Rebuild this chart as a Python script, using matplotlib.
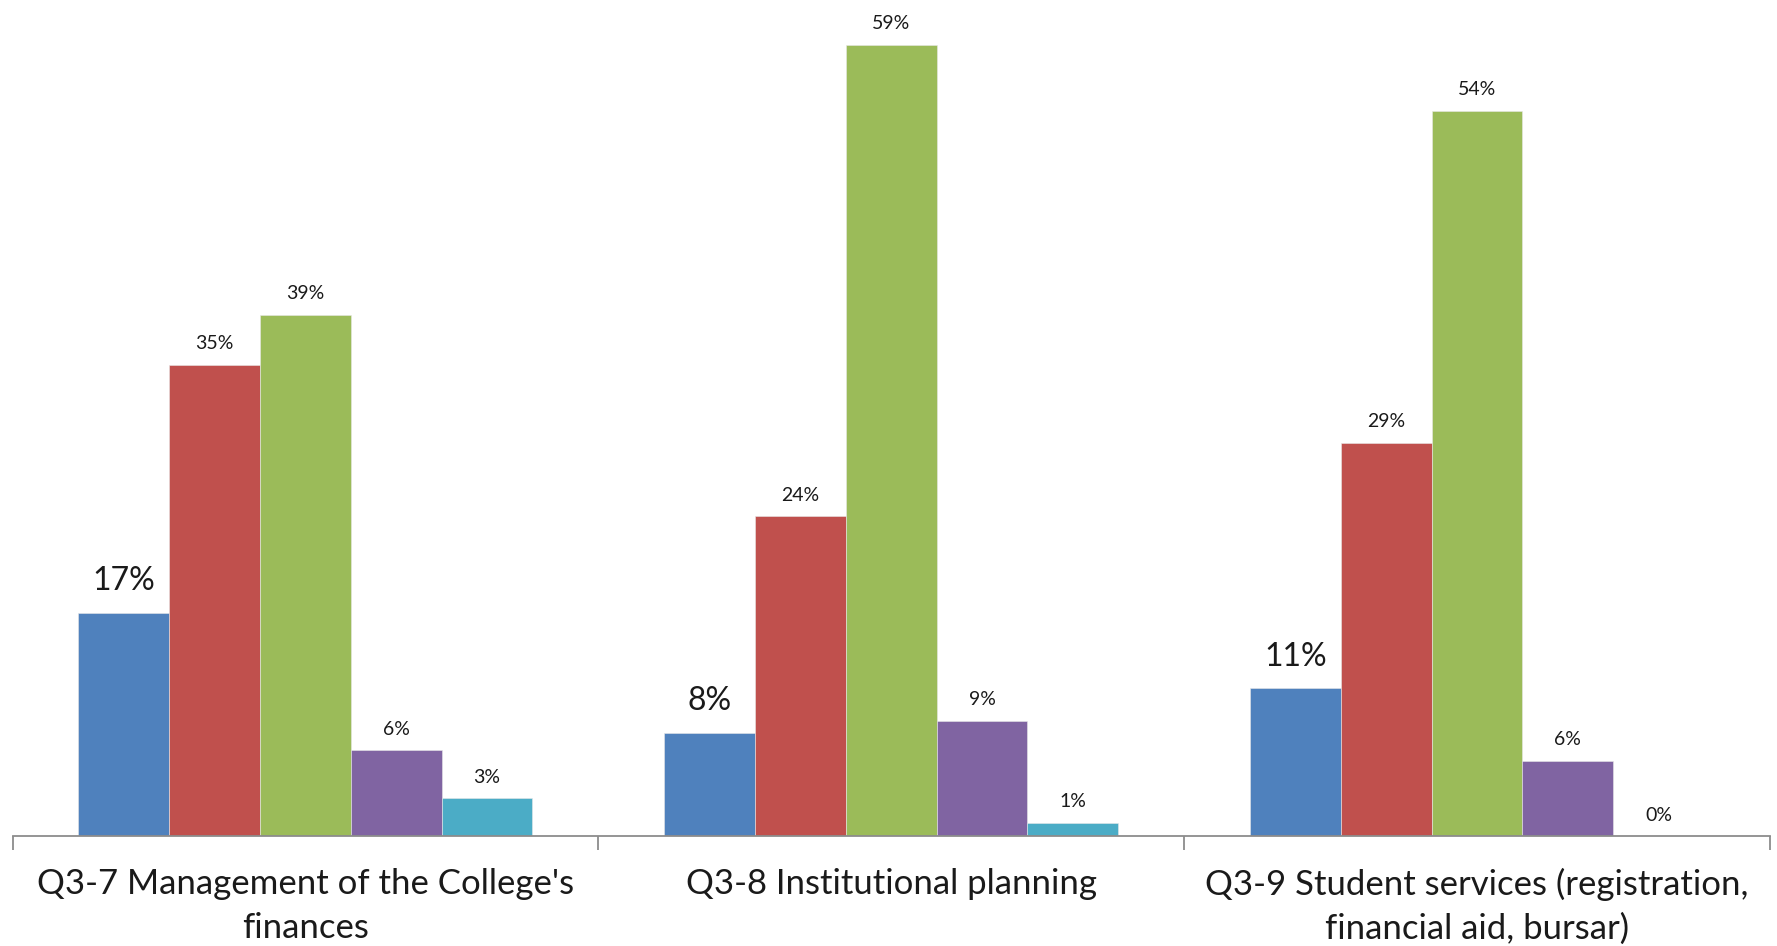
import matplotlib
matplotlib.use("Agg")
import matplotlib.pyplot as plt
import numpy as np

categories = ["Q3-7 Management of the College's\nfinances",
              "Q3-8 Institutional planning",
              "Q3-9 Student services (registration,\nfinancial aid, bursar)"]
series_1 = [16.6, 7.7, 11.0]
series_2 = [35.1, 23.8, 29.3]
series_3 = [38.8, 58.9, 54.0]
series_4 = [6.4, 8.6, 5.6]
series_5 = [2.8, 1.0, 0.0]

series = [series_1, series_2, series_3, series_4, series_5]
colors = ["#4F81BD", "#C0504D", "#9BBB59", "#8064A2", "#4BACC6"]
label_sizes = [23, 14, 14, 14, 14]
label_offsets = [12, 9, 9, 9, 9]

plt.rcParams['font.family'] = ['Lato', 'DejaVu Sans']

W, H = 1777, 946
fig = plt.figure(figsize=(W / 100, H / 100), dpi=100)
ax_left, ax_right = 12.5 / W, 1770 / W
ax_bottom = (H - 836) / H
ymax = 62.0
px_per = 13.43
ax_h = ymax * px_per / H
ax = fig.add_axes([ax_left, ax_bottom, ax_right - ax_left, ax_h])

n = len(categories)
x = np.arange(n)
bw = 0.155
for i, (vals, c) in enumerate(zip(series, colors)):
    pos = x + (i - 2) * bw
    bars = ax.bar(pos, vals, width=bw, color=c, edgecolor="#e8e8e8", linewidth=0.4)
    for p, v in zip(pos, vals):
        ax.annotate(f"{v:.0f}%", (p, v), xytext=(0, label_offsets[i]), textcoords="offset points",
                    ha="center", va="bottom", fontsize=label_sizes[i], color="#1a1a1a")

ax.set_xlim(-0.5, n - 0.5)
ax.set_ylim(0, ymax)
for s in ["top", "right", "left"]:
    ax.spines[s].set_visible(False)
ax.spines["bottom"].set_color("#8c8c8c")
ax.spines["bottom"].set_linewidth(1.3)
ax.set_yticks([])
ax.set_xticks(np.arange(n + 1) - 0.5, minor=False)
ax.set_xticklabels([])
ax.tick_params(axis="x", which="major", length=10, width=1.3, color="#8c8c8c", direction="out")
ax.set_xticks(x, minor=True)
ax.set_xticklabels(categories, minor=True, fontsize=25, color="#1a1a1a", linespacing=1.45)
ax.tick_params(axis="x", which="minor", length=0, pad=23)

fig.savefig("out.png", dpi=100, facecolor="white")
